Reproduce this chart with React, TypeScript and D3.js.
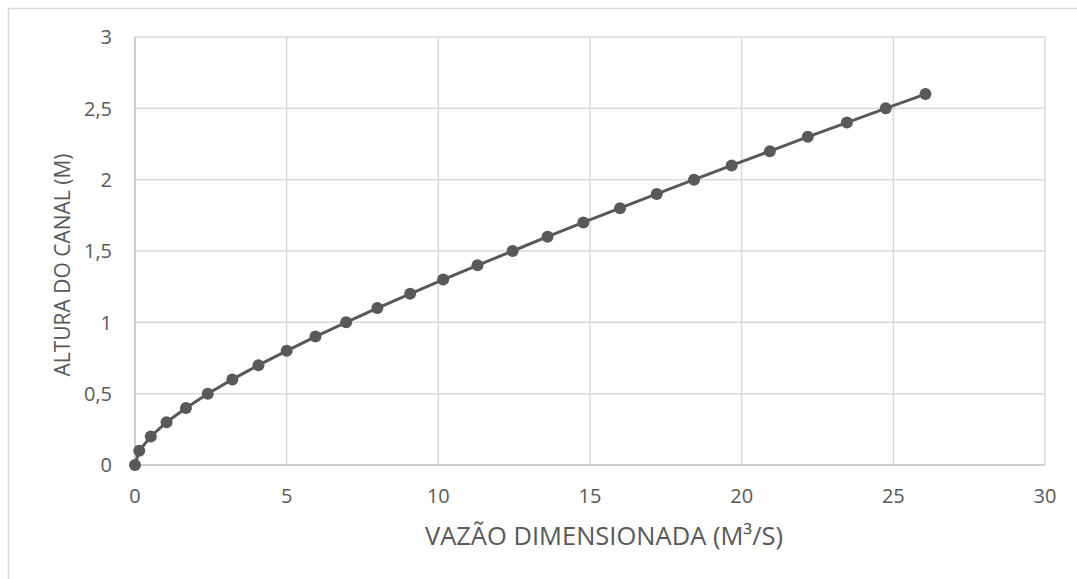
import React from "react";
import * as d3 from "d3";

// Flow rate (m³/s) for each channel depth (m)
const flowRates: number[] = [
  0, 0.14, 0.52, 1.04, 1.68, 2.4, 3.21, 4.07, 5.0, 5.95, 6.96, 7.99, 9.07, 10.16,
  11.29, 12.45, 13.6, 14.78, 15.99, 17.2, 18.43, 19.67, 20.93, 22.18, 23.47, 24.75, 26.06,
];
const depths: number[] = [
  0, 0.1, 0.2, 0.3, 0.4, 0.5, 0.6, 0.7, 0.8, 0.9, 1.0, 1.1, 1.2, 1.3, 1.4, 1.5,
  1.6, 1.7, 1.8, 1.9, 2.0, 2.1, 2.2, 2.3, 2.4, 2.5, 2.6,
];
const xTicks: number[] = [0, 5, 10, 15, 20, 25, 30];
const yTicks: number[] = [0, 0.5, 1, 1.5, 2, 2.5, 3];
const xTitle = "VAZÃO DIMENSIONADA (M³/S)";
const yTitle = "ALTURA DO CANAL (M)";

const W = 1077;
const H = 579;
const plot = { left: 135, right: 1045, top: 37, bottom: 465 };
const font = "'Open Sans', 'DejaVu Sans', sans-serif";
const textColor = "#595959";
const gridColor = "#d9d9d9";
const axisColor = "#bfbfbf";
const seriesColor = "#595959";

const fmt = (v: number) => String(v).replace(".", ",");

export default function App() {
  const x = d3.scaleLinear().domain([0, 30]).range([plot.left, plot.right]);
  const y = d3.scaleLinear().domain([0, 3]).range([plot.bottom, plot.top]);
  const points = flowRates.map((q, i) => [q, depths[i]] as [number, number]);
  const line = d3
    .line<[number, number]>()
    .x((d) => x(d[0]))
    .y((d) => y(d[1]));

  return (
    <svg
      width={W}
      height={H}
      style={{ position: "absolute", left: 0, top: 0, display: "block", background: "#fff" }}
    >
      <rect x={8.5} y={8.5} width={W + 20} height={H + 20} fill="#fff" stroke={gridColor} strokeWidth={1.5} />

      {/* gridlines */}
      {xTicks.slice(1).map((t) => (
        <line key={"gx" + t} x1={x(t)} x2={x(t)} y1={plot.top} y2={plot.bottom} stroke={gridColor} strokeWidth={1.5} />
      ))}
      {yTicks.slice(1).map((t) => (
        <line key={"gy" + t} x1={plot.left} x2={plot.right} y1={y(t)} y2={y(t)} stroke={gridColor} strokeWidth={1.5} />
      ))}

      {/* axes */}
      <line x1={plot.left} x2={plot.left} y1={plot.top} y2={plot.bottom} stroke={axisColor} strokeWidth={1.5} />
      <line x1={plot.left} x2={plot.right} y1={plot.bottom} y2={plot.bottom} stroke={axisColor} strokeWidth={1.5} />

      {/* tick labels */}
      {yTicks.map((t) => (
        <text key={"ty" + t} x={plot.left - 23} y={y(t)} dy="0.36em" textAnchor="end" fontFamily={font} fontSize={20} fill={textColor}>
          {fmt(t)}
        </text>
      ))}
      {xTicks.map((t) => (
        <text key={"tx" + t} x={x(t)} y={plot.bottom + 31} dy="0.36em" textAnchor="middle" fontFamily={font} fontSize={20} fill={textColor}>
          {fmt(t)}
        </text>
      ))}

      {/* axis titles */}
      <text x={604} y={545} textAnchor="middle" fontFamily={font} fontSize={25.5} fill={textColor}>
        {xTitle}
      </text>
      <text
        transform={`translate(70, 265) rotate(-90)`}
        textAnchor="middle"
        fontFamily={font}
        fontSize={21}
        fill={textColor}
      >
        {yTitle}
      </text>

      {/* series */}
      <path d={line(points) || ""} fill="none" stroke={seriesColor} strokeWidth={3} />
      {points.map((d, i) => (
        <circle key={i} cx={x(d[0])} cy={y(d[1])} r={6} fill={seriesColor} />
      ))}
    </svg>
  );
}
